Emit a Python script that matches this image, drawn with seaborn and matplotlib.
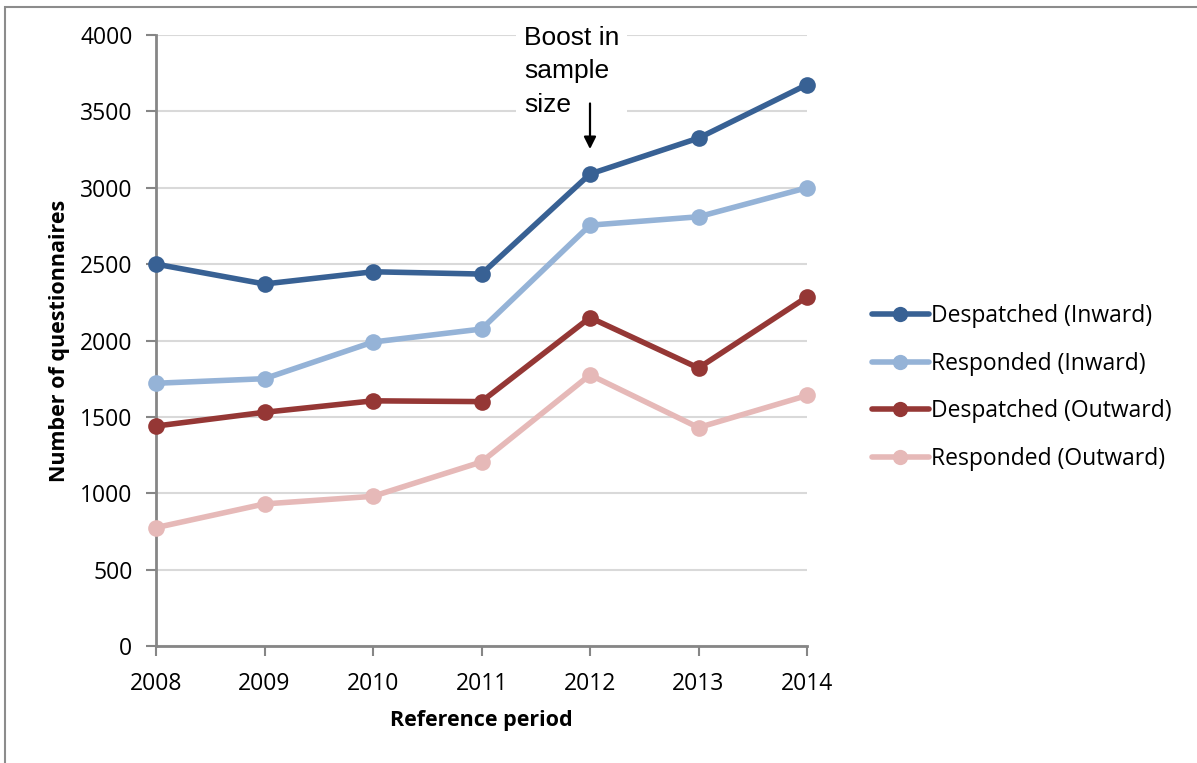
import matplotlib
matplotlib.use("Agg")
import matplotlib.pyplot as plt
from matplotlib.patches import Rectangle
import seaborn as sns
import pandas as pd

# Questionnaire counts by reference period
years = [2008, 2009, 2010, 2011, 2012, 2013, 2014]
despatched_inward = [2500, 2370, 2450, 2435, 3090, 3325, 3675]
responded_inward = [1720, 1750, 1990, 2075, 2755, 2810, 3000]
despatched_outward = [1440, 1530, 1605, 1600, 2150, 1820, 2285]
responded_outward = [775, 930, 980, 1205, 1775, 1430, 1640]

series_names = ["Despatched (Inward)", "Responded (Inward)",
                "Despatched (Outward)", "Responded (Outward)"]
series_values = [despatched_inward, responded_inward,
                 despatched_outward, responded_outward]
colors = ["#386194", "#95B3D7", "#953735", "#E6B9B8"]

y_ticks = [0, 500, 1000, 1500, 2000, 2500, 3000, 3500, 4000]

df = pd.DataFrame(
    [(y, v, name) for name, vals in zip(series_names, series_values)
     for y, v in zip(years, vals)],
    columns=["year", "count", "series"],
)

sns.set_theme(style="white")
plt.rcParams["font.family"] = ["Open Sans", "DejaVu Sans"]
plt.rcParams["text.color"] = "black"
plt.rcParams["axes.labelcolor"] = "black"

fig = plt.figure(figsize=(11.97, 7.63), dpi=100)
ax = fig.add_axes([156 / 1197, 1 - 646 / 763, 651 / 1197, 611 / 763])

# Outer chart border
fig.patches.append(Rectangle((5 / 1197, -0.1), 1.2, 1 - 7 / 763 + 0.1,
                             transform=fig.transFigure, fill=False,
                             edgecolor="#8C8C8C", linewidth=1.5, zorder=0))

sns.lineplot(data=df, x="year", y="count", hue="series",
             hue_order=series_names, palette=colors, marker="o",
             markersize=12, markeredgewidth=0, linewidth=4.0,
             ax=ax, clip_on=False, zorder=3)

ax.set_xlim(2008, 2014)
ax.set_ylim(0, 4000)
ax.set_xticks(years)
ax.set_xticklabels([str(y) for y in years])
ax.set_yticks(y_ticks)
ax.set_yticklabels([str(t) for t in y_ticks])

ax.grid(axis="y", color="#D9D9D9", linewidth=1.5)
ax.set_axisbelow(True)
for side in ["top", "right"]:
    ax.spines[side].set_visible(False)
for side in ["left", "bottom"]:
    ax.spines[side].set_color("#868686")
    ax.spines[side].set_linewidth(2)

ax.tick_params(axis="both", which="major", direction="out", length=7,
               width=1.5, color="#868686", labelsize=16.5, labelcolor="black",
               bottom=True, left=True)
ax.tick_params(axis="y", pad=10)
ax.tick_params(axis="x", pad=12)

ax.set_xlabel("Reference period", fontsize=15.5, fontweight="bold")
ax.set_ylabel("Number of questionnaires", fontsize=15.5, fontweight="bold")
ax.xaxis.set_label_coords(0.5, -0.105)
ax.yaxis.set_label_coords(-0.132, 0.5)

# Annotation marking the sample size increase
ax.text(2011.39, 4060, "Boost in\nsample\nsize", fontsize=19,
        family=["Liberation Sans", "DejaVu Sans"], va="top",
        ha="left", linespacing=1.5, zorder=4,
        bbox=dict(facecolor="white", edgecolor="none",
                  boxstyle="square,pad=0.3"))
ax.annotate("", xy=(2012, 3235), xytext=(2012, 3570),
            arrowprops=dict(arrowstyle="-|>", color="black", lw=1.6,
                            mutation_scale=18), zorder=4)

handles, labels = ax.get_legend_handles_labels()
leg = ax.legend(handles, labels, loc="center left",
                bbox_to_anchor=(1.085, 0.423), frameon=False, fontsize=16.5,
                handlelength=2.5, handletextpad=0.1, labelspacing=1.02,
                borderaxespad=0)
for line in leg.get_lines():
    line.set_linewidth(4.0)
    line.set_markersize(11)

fig.savefig("out.png", dpi=100)
